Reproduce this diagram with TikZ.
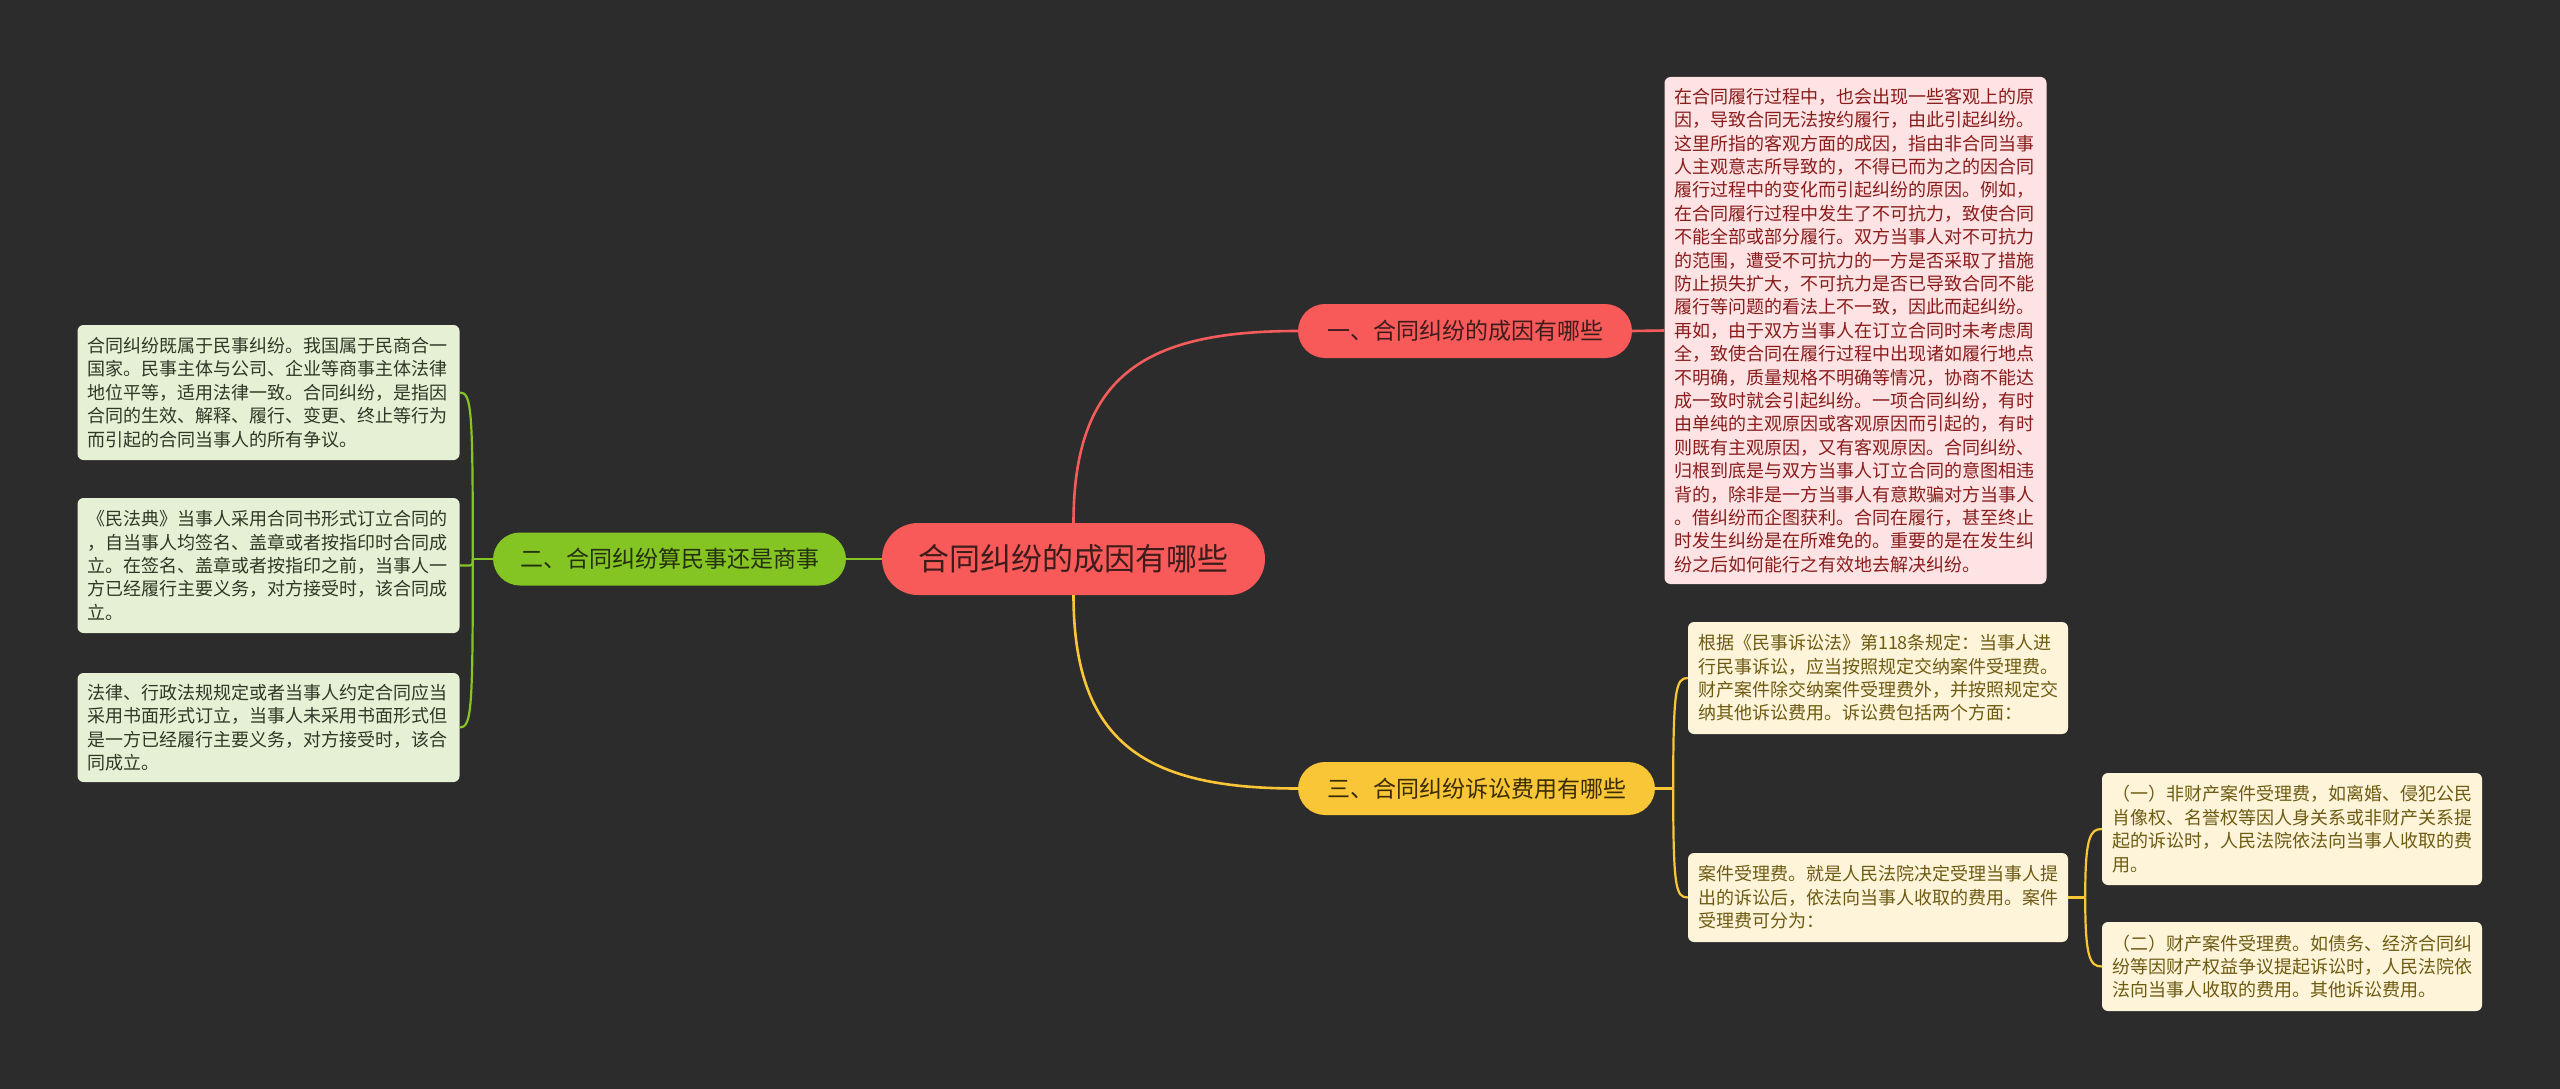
\documentclass[tikz,border=0pt]{standalone}
\usepackage{fontspec}
\usetikzlibrary{calc}
\newfontfamily\cjk{Noto Sans CJK SC}
\definecolor{bg}{HTML}{2C2C2C}
\definecolor{mainred}{HTML}{F85A5A}
\definecolor{mainred2}{HTML}{F45C5C}
\definecolor{pillgreen}{HTML}{84C423}
\definecolor{pillyellow}{HTML}{F8C636}
\definecolor{pinkfill}{HTML}{FDE3E3}
\definecolor{pinktext}{HTML}{8A1C1C}
\definecolor{greenfill}{HTML}{E6F0D5}
\definecolor{greentext}{HTML}{2F3826}
\definecolor{yellowfill}{HTML}{FDF4DA}
\definecolor{yellowtext}{HTML}{6E5B12}
\definecolor{redtext}{HTML}{3E1C1C}
\definecolor{grntext}{HTML}{243010}
\definecolor{ylwtext}{HTML}{3A2C02}
\tikzset{
  pill/.style={rounded corners=#1, inner sep=0pt, align=center},
  tbox/.style={rounded corners=6pt, inner xsep=10pt, inner ysep=0pt, align=left,
    text width=362pt, font=\cjk\fontsize{18pt}{23.4pt}\selectfont},
  lred/.style={draw=mainred2, line width=2.6pt},
  lgreen/.style={draw=pillgreen, line width=2.2pt},
  lyellow/.style={draw=pillyellow, line width=2.2pt},
}
\begin{document}
\begin{tikzpicture}[x=1pt,y=-1pt]
\fill[bg] (0,0) rectangle (2560,1089);
\useasboundingbox (0,0) rectangle (2560,1089);

% main nodes
\node[pill=36pt, fill=mainred, text=redtext, minimum width=383pt, minimum height=72pt,
  font=\cjk\fontsize{31pt}{36pt}\selectfont] (c) at (1073.5,559) {合同纠纷的成因有哪些};
\node[pill=27pt, fill=mainred, text=redtext, minimum width=334pt, minimum height=54pt,
  font=\cjk\fontsize{23pt}{28pt}\selectfont] (n1) at (1465,331) {一、合同纠纷的成因有哪些};
\node[pill=27pt, fill=pillgreen, text=grntext, minimum width=353pt, minimum height=53pt,
  font=\cjk\fontsize{23pt}{28pt}\selectfont] (n2) at (669.5,559) {二、合同纠纷算民事还是商事};
\node[pill=27pt, fill=pillyellow, text=ylwtext, minimum width=357pt, minimum height=53pt,
  font=\cjk\fontsize{23pt}{28pt}\selectfont] (n3) at (1476.5,788.5) {三、合同纠纷诉讼费用有哪些};

% pink text box
\node[tbox, fill=pinkfill, text=pinktext, minimum height=507pt] (pk) at (1855.5,330.5) {%
在合同履行过程中，也会出现一些客观上的原\\
因，导致合同无法按约履行，由此引起纠纷。\\
这里所指的客观方面的成因，指由非合同当事\\
人主观意志所导致的，不得已而为之的因合同\\
履行过程中的变化而引起纠纷的原因。例如，\\
在合同履行过程中发生了不可抗力，致使合同\\
不能全部或部分履行。双方当事人对不可抗力\\
的范围，遭受不可抗力的一方是否采取了措施\\
防止损失扩大，不可抗力是否已导致合同不能\\
履行等问题的看法上不一致，因此而起纠纷。\\
再如，由于双方当事人在订立合同时未考虑周\\
全，致使合同在履行过程中出现诸如履行地点\\
不明确，质量规格不明确等情况，协商不能达\\
成一致时就会引起纠纷。一项合同纠纷，有时\\
由单纯的主观原因或客观原因而引起的，有时\\
则既有主观原因，又有客观原因。合同纠纷、\\
归根到底是与双方当事人订立合同的意图相违\\
背的，除非是一方当事人有意欺骗对方当事人\\
。借纠纷而企图获利。合同在履行，甚至终止\\
时发生纠纷是在所难免的。重要的是在发生纠\\
纷之后如何能行之有效地去解决纠纷。};

% green text boxes
\node[tbox, fill=greenfill, text=greentext, minimum height=135pt] (gA) at (268.5,392.5) {%
合同纠纷既属于民事纠纷。我国属于民商合一\\
国家。民事主体与公司、企业等商事主体法律\\
地位平等，适用法律一致。合同纠纷，是指因\\
合同的生效、解释、履行、变更、终止等行为\\
而引起的合同当事人的所有争议。};
\node[tbox, fill=greenfill, text=greentext, minimum height=135pt] (gB) at (268.5,565.5) {%
《民法典》当事人采用合同书形式订立合同的\\
，自当事人均签名、盖章或者按指印时合同成\\
立。在签名、盖章或者按指印之前，当事人一\\
方已经履行主要义务，对方接受时，该合同成\\
立。};
\node[tbox, fill=greenfill, text=greentext, minimum height=109pt] (gC) at (268.5,727.5) {%
法律、行政法规规定或者当事人约定合同应当\\
采用书面形式订立，当事人未采用书面形式但\\
是一方已经履行主要义务，对方接受时，该合\\
同成立。};

% yellow text boxes
\node[tbox, text width=360pt, fill=yellowfill, text=yellowtext, minimum height=112pt] (yD) at (1878,678) {%
根据《民事诉讼法》第118条规定：当事人进\\
行民事诉讼，应当按照规定交纳案件受理费。\\
财产案件除交纳案件受理费外，并按照规定交\\
纳其他诉讼费用。诉讼费包括两个方面：};
\node[tbox, text width=360pt, fill=yellowfill, text=yellowtext, minimum height=89pt] (yE) at (1878,897.5) {%
案件受理费。就是人民法院决定受理当事人提\\
出的诉讼后，依法向当事人收取的费用。案件\\
受理费可分为：};
\node[tbox, text width=360pt, fill=yellowfill, text=yellowtext, minimum height=112pt] (yF) at (2292,829) {%
（一）非财产案件受理费，如离婚、侵犯公民\\
肖像权、名誉权等因人身关系或非财产关系提\\
起的诉讼时，人民法院依法向当事人收取的费\\
用。};
\node[tbox, text width=360pt, fill=yellowfill, text=yellowtext, minimum height=89pt] (yG) at (2292,966.5) {%
（二）财产案件受理费。如债务、经济合同纠\\
纷等因财产权益争议提起诉讼时，人民法院依\\
法向当事人收取的费用。其他诉讼费用。};

% connectors
\draw[lred] (c.north) .. controls +(0,-150) and +(-150,0) .. (n1.west);
\draw[lyellow, line width=2.6pt] (c.south) .. controls +(0,150) and +(-150,0) .. (n3.west);
\draw[lgreen, line width=2.6pt] (c.west) -- (n2.east);
\draw[lred] (n1.east) -- (pk.west);

% left bracket
\coordinate (jl) at ($(n2.west)+(-20,0)$);
\draw[lgreen] (n2.west) -- (jl);
\draw[lgreen] (jl) .. controls +(0,-150) and +(12,0) .. (gA.east);
\draw[lgreen] (jl) .. controls +(0,150) and +(12,0) .. (gC.east);
\draw[lgreen, rounded corners=3pt] (jl) |- (gB.east);

% node 3 bracket
\coordinate (jy) at ($(n3.east)+(18,0)$);
\draw[lyellow] (n3.east) -- (jy);
\draw[lyellow] (jy) .. controls +(0,-100) and +(-12,0) .. (yD.west);
\draw[lyellow] (jy) .. controls +(0,100) and +(-12,0) .. (yE.west);

% box E bracket
\coordinate (je) at ($(yE.east)+(17,0)$);
\draw[lyellow] (yE.east) -- (je);
\draw[lyellow] (je) .. controls +(0,-60) and +(-12,0) .. (yF.west);
\draw[lyellow] (je) .. controls +(0,60) and +(-12,0) .. (yG.west);
\end{tikzpicture}
\end{document}
